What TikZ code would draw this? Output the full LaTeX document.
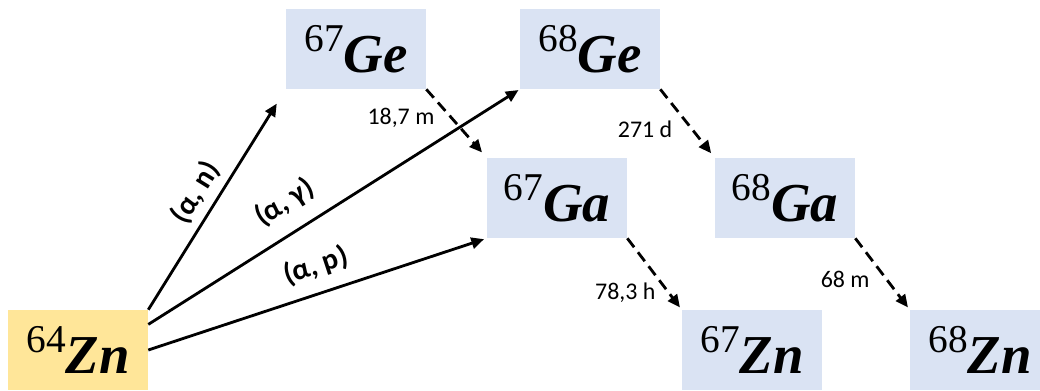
\documentclass[tikz,border=0pt]{standalone}
\usepackage{fontspec}
\setmainfont{Carlito}
\newfontfamily\isofont{Liberation Serif}
\usetikzlibrary{arrows.meta}

\definecolor{isoblue}{HTML}{DAE3F3}
\definecolor{isoyellow}{HTML}{FFE699}

% isotope: mass number raised, symbol in bold italic
\newcommand{\iso}[2]{{\isofont\fontsize{28}{30}\selectfont\raisebox{15pt}{#1}\fontsize{39}{44}\selectfont\bfseries\itshape #2}}

\begin{document}
\begin{tikzpicture}[x=0.025cm, y=0.025cm, >={Triangle[length=9pt,width=8pt]},
  font=\fontsize{17}{20}\selectfont,
  isobox/.style={fill=isoblue, minimum width=3.5cm, minimum height=2cm, inner sep=0pt},
  reac/.style={->, line width=2pt},
  decay/.style={->, line width=2pt, dash pattern=on 8pt off 4.5pt},
  rlab/.style={sloped, inner sep=2pt, font=\bfseries\fontsize{21}{24}\selectfont}]

% Frame
\useasboundingbox (0,0) rectangle (1040,390);
\clip (0,0) rectangle (1040,390);

% ---- Isotope boxes ----
\node[isobox, fill=isoyellow] (zn64) at (78,40) {\iso{64}{Zn}};
\node[isobox] (ge67) at (356,341) {\iso{67}{Ge}};
\node[isobox] (ge68) at (590,341) {\iso{68}{Ge}};
\node[isobox] (ga67) at (557,192) {\iso{67}{Ga}};
\node[isobox] (ga68) at (785,192) {\iso{68}{Ga}};
\node[isobox] (zn67) at (752,40) {\iso{67}{Zn}};
\node[isobox] (zn68) at (980,40) {\iso{68}{Zn}};

% ---- Nuclear reactions on 64Zn ----
\draw[reac, shorten >=12pt] (zn64.north east) -- node[rlab, above=3pt, pos=0.48] {(α, n)} (ge67.south west);
\draw[reac, shorten >=1pt] (zn64.20) -- node[rlab, above=9pt, pos=0.41] {(α, γ)} (ge68.south west);
\draw[reac, shorten >=2pt] (zn64.east) -- node[rlab, above=7pt, pos=0.52] {(α, p)} (ga67.south west);

% ---- Decays with half-lives ----
\draw[decay, shorten >=5pt] (ge67.south east) -- node[left=8pt, pos=0.42] {18,7 m} (ga67.north west);
\draw[decay, shorten >=4pt] (ge68.south east) -- node[left=10pt, pos=0.59] {271 d} (ga68.north west);
\draw[decay, shorten >=2pt] (ga67.south east) -- node[left=5pt, pos=0.76] {78,3 h} (zn67.north west);
\draw[decay, shorten >=2pt] (ga68.south east) -- node[left=8pt, pos=0.58] {68 m} (zn68.north west);

\end{tikzpicture}
\end{document}
